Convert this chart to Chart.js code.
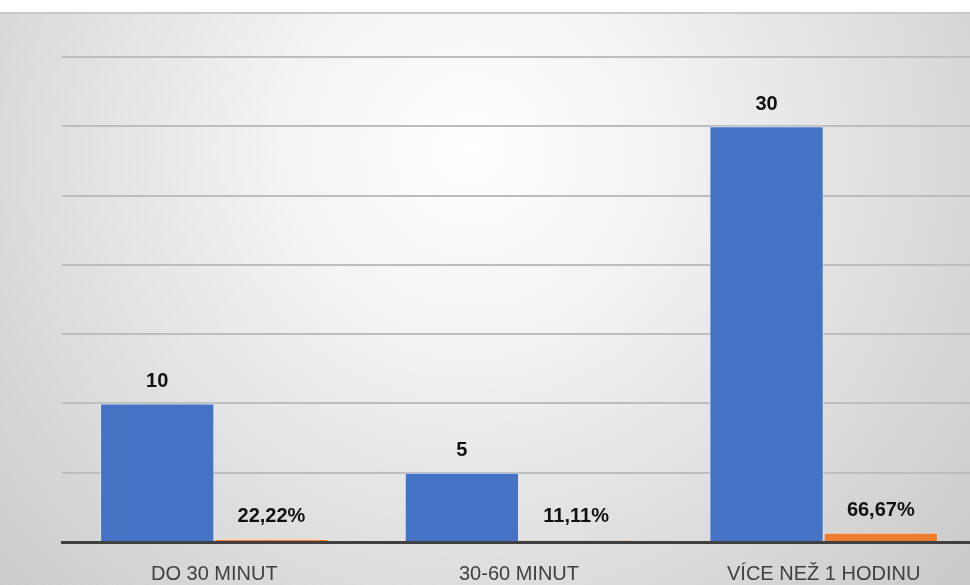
<!DOCTYPE html>
<html>
<head>
<meta charset="utf-8">
<script src="https://cdn.jsdelivr.net/npm/chart.js@4"></script>
<style>
    html, body { margin: 0; padding: 0; overflow: hidden; background: #fff; }
    #wrap { width: 976px; height: 585px; }
</style>
</head>
<body>
<div id="wrap"><canvas id="casChart"></canvas></div>
<script>
// Data
const kategorie = ['DO 30 MINUT', '30-60 MINUT', 'VÍCE NEŽ 1 HODINU'];
const pocty = [10, 5, 30];
const podily = [0.2222, 0.1111, 0.6667];
const osaMax = 35;
const krokOsy = 5;

// pozadí s gradientem
const pozadiPlugin = {
    id: 'pozadi',
    beforeDraw(chart) {
        const c = chart.ctx;
        const w = chart.width, h = chart.height;
        c.save();
        c.fillStyle = '#ffffff';
        c.fillRect(0, 0, w, h);
        const g = c.createRadialGradient(470, 150, 0, 470, 150, 640);
        g.addColorStop(0, '#ffffff');
        g.addColorStop(0.3, '#f3f3f3');
        g.addColorStop(1, '#cbcbcb');
        c.fillStyle = g;
        c.fillRect(0, 13, w, h - 13);
        c.fillStyle = '#c8c8c8';
        c.fillRect(0, 12, w, 2);
        c.restore();
    }
};

// popisky nad sloupci
const popiskyPlugin = {
    id: 'popisky',
    afterDatasetsDraw(chart) {
        const c = chart.ctx;
        c.save();
        c.font = 'bold 20px "Liberation Sans", Arial, sans-serif';
        c.fillStyle = '#111111';
        c.textAlign = 'center';
        c.textBaseline = 'middle';
        chart.data.datasets.forEach((ds, di) => {
            const meta = chart.getDatasetMeta(di);
            meta.data.forEach((bar, i) => {
                const v = ds.data[i];
                const text = di === 0 ? String(v) : (v * 100).toFixed(2).replace('.', ',') + '%';
                c.fillText(text, bar.x, Math.min(bar.y, bar.base - 3) - 22);
            });
        });
        c.restore();
    }
};

const ctx = document.getElementById('casChart').getContext('2d');

const casChart = new Chart(ctx, {
    type: 'bar',
    data: {
        labels: kategorie,
        datasets: [{
            label: 'Počet',
            data: pocty,
            backgroundColor: '#4472C4',
            borderColor: 'rgba(220,232,250,0.8)',
            borderWidth: 1
        }, {
            label: 'Podíl',
            data: podily,
            backgroundColor: '#ED7D31',
            borderColor: 'rgba(250,220,200,0.8)',
            borderWidth: 1
        }]
    },
    options: {
        responsive: true,
        maintainAspectRatio: false,
        animation: false,
        layout: {
            padding: { top: 57, left: 62, right: 0, bottom: 0 }
        },
        plugins: {
            legend: { display: false },
            tooltip: { enabled: false }
        },
        datasets: {
            bar: { categoryPercentage: 0.75, barPercentage: 1 }
        },
        scales: {
            x: {
                afterFit(scale) { scale.height = 43; },
                grid: { display: false, drawTicks: false },
                border: { display: true, color: '#404040', width: 3 },
                ticks: {
                    color: '#404040',
                    padding: 20,
                    font: { size: 20, family: '"Liberation Sans", Arial, sans-serif' }
                }
            },
            y: {
                min: 0,
                max: osaMax,
                afterFit(scale) { scale.width = 0; },
                ticks: { display: false, stepSize: krokOsy },
                border: { display: false },
                grid: { color: '#bdbdbd', lineWidth: 2, drawTicks: false }
            }
        }
    },
    plugins: [pozadiPlugin, popiskyPlugin]
});
</script>
</body>
</html>
